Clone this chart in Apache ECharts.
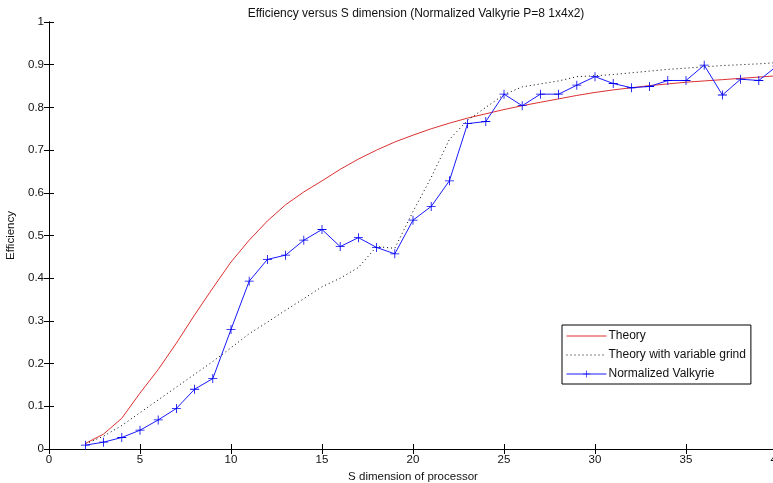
<!DOCTYPE html>
<html><head><meta charset="utf-8">
<script src="https://cdn.jsdelivr.net/npm/echarts@6/dist/echarts.min.js"></script>
<style>html,body{margin:0;padding:0;background:#fff}#c{width:773px;height:483px}</style>
</head><body><div id="c"></div>
<script>
var xs = [2,3,4,5,6,7,8,9,10,11,12,13,14,15,16,17,18,19,20,21,22,23,24,25,26,27,28,29,30,31,32,33,34,35,36,37,38,39,40];
var theory = [0.013,0.035,0.072,0.131,0.186,0.248,0.314,0.377,0.438,0.489,0.534,0.572,0.602,0.628,0.655,0.679,0.70,0.719,0.735,0.75,0.763,0.775,0.785,0.795,0.804,0.812,0.820,0.828,0.835,0.841,0.846,0.851,0.855,0.859,0.862,0.865,0.868,0.871,0.874];
var variableGrind = [0.012,0.03,0.055,0.085,0.115,0.145,0.175,0.205,0.237,0.27,0.297,0.325,0.352,0.38,0.40,0.425,0.474,0.47,0.556,0.636,0.725,0.77,0.80,0.83,0.848,0.855,0.862,0.872,0.874,0.877,0.881,0.885,0.889,0.892,0.895,0.898,0.90,0.902,0.905];
var valkyrie = [0.009,0.016,0.027,0.044,0.068,0.095,0.140,0.165,0.280,0.393,0.444,0.454,0.489,0.514,0.474,0.495,0.472,0.457,0.536,0.568,0.628,0.762,0.767,0.831,0.804,0.831,0.831,0.852,0.872,0.856,0.846,0.849,0.863,0.863,0.899,0.829,0.866,0.863,0.897];
var xTicks = [0,5,10,15,20,25,30,35,40];
var yTicks = [0,0.1,0.2,0.3,0.4,0.5,0.6,0.7,0.8,0.9,1];
var seriesNames = ['Theory','Theory with variable grind','Normalized Valkyrie'];

function pairs(v){ return xs.map(function(x,i){ return [x, v[i]]; }); }
var plus = 'path://M-0.09,-1 L0.09,-1 L0.09,-0.09 L1,-0.09 L1,0.09 L0.09,0.09 L0.09,1 L-0.09,1 L-0.09,0.09 L-1,0.09 L-1,-0.09 L-0.09,-0.09 Z';
var font = 'Liberation Sans, Arial, sans-serif';
var tickFmt = function(v){ return String(Math.round(v*10)/10); };

var chart = echarts.init(document.getElementById('c'), null, {renderer:'canvas'});
chart.setOption({
  animation:false,
  backgroundColor:'#fff',
  title:{text:'Efficiency versus S dimension (Normalized Valkyrie P=8 1x4x2)', left:411, textAlign:'center', top:3,
    textStyle:{fontSize:12, fontWeight:'normal', color:'#111', fontFamily:font}},
  grid:{left:49, top:22, width:728, height:427, containLabel:false, outerBoundsMode:'none'},
  legend:{orient:'vertical', left:562, top:325, itemWidth:40, itemHeight:9, itemGap:7,
    padding:[5,5,4,4], borderColor:'#000', borderWidth:1, backgroundColor:'#fff',
    lineStyle:{width:1},
    textStyle:{fontSize:12, color:'#111', fontFamily:font, padding:[0,0,0,-3]},
    data:[{name:seriesNames[0], itemStyle:{opacity:0}},
          {name:seriesNames[1], itemStyle:{opacity:0}},
          {name:seriesNames[2]}]},
  xAxis:[{type:'value', min:0, max:40, interval:5, position:'bottom',
      name:'S dimension of processor', nameLocation:'middle', nameGap:18,
      nameTextStyle:{fontSize:11.5, color:'#111', fontFamily:font},
      axisLine:{lineStyle:{color:'#000', width:1}},
      axisTick:{inside:true, length:5, lineStyle:{color:'#000'}},
      axisLabel:{fontSize:11.5, color:'#111', fontFamily:font, margin:5},
      splitLine:{show:false}},
    {type:'value', min:0, max:40, interval:5, position:'top',
      axisLine:{lineStyle:{color:'#000', width:1}},
      axisTick:{inside:true, length:5, lineStyle:{color:'#000'}},
      axisLabel:{show:false}, splitLine:{show:false}}],
  yAxis:[{type:'value', min:0, max:1, interval:0.1, position:'left',
      name:'Efficiency', nameLocation:'middle', nameGap:28,
      nameTextStyle:{fontSize:11.5, color:'#111', fontFamily:font},
      axisLine:{lineStyle:{color:'#000', width:1}},
      axisTick:{inside:true, length:5, lineStyle:{color:'#000'}},
      axisLabel:{fontSize:11.5, color:'#111', fontFamily:font, margin:5, formatter:tickFmt},
      splitLine:{show:false}},
    {type:'value', min:0, max:1, interval:0.1, position:'right',
      axisLine:{lineStyle:{color:'#000', width:1}},
      axisTick:{inside:true, length:5, lineStyle:{color:'#000'}},
      axisLabel:{show:false}, splitLine:{show:false}}],
  series:[
    {name:seriesNames[0], type:'line', data:pairs(theory), smooth:false, symbol:'none',
      lineStyle:{color:'#dc3030', width:1}, itemStyle:{color:'#dc3030'}},
    {name:seriesNames[1], type:'line', data:pairs(variableGrind), symbol:'none',
      lineStyle:{color:'#000', width:1, type:[1,3]}, itemStyle:{color:'#000'}},
    {name:seriesNames[2], type:'line', data:pairs(valkyrie), symbol:plus, symbolSize:9, showSymbol:true,
      lineStyle:{color:'#1a1aff', width:1}, itemStyle:{color:'#0000ee'}}
  ]
});
</script></body></html>
